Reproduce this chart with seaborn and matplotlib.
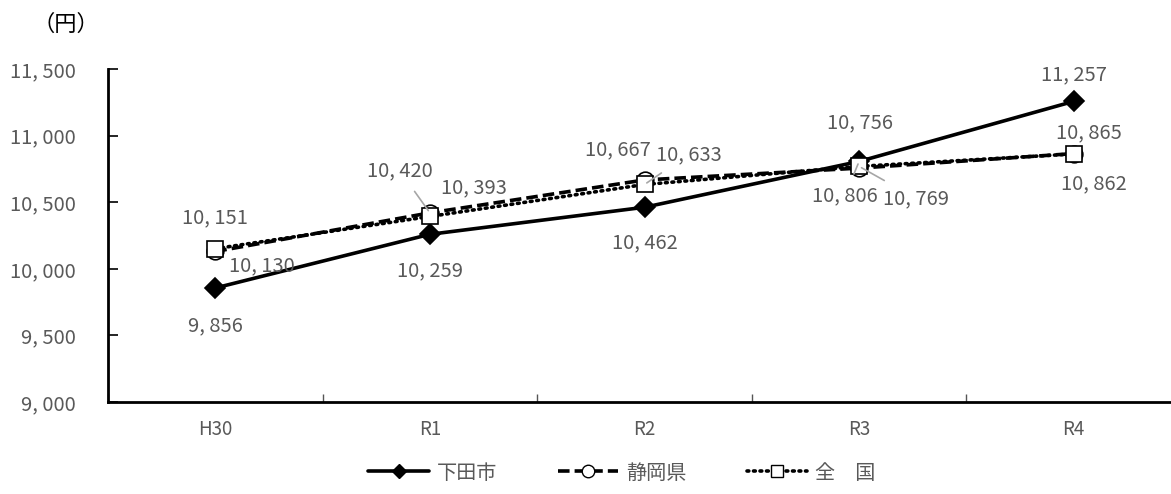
import matplotlib
matplotlib.use("Agg")
import matplotlib.pyplot as plt
import seaborn as sns
import pandas as pd
from matplotlib.lines import Line2D

categories = ["H30", "R1", "R2", "R3", "R4"]
shimoda = [9856, 10259, 10462, 10806, 11257]
shizuoka = [10130, 10420, 10667, 10756, 10865]
zenkoku = [10151, 10393, 10633, 10769, 10862]
series_names = ["下田市", "静岡県", "全\u3000国"]
yticks = [9000, 9500, 10000, 10500, 11000, 11500]

sns.set_theme(style="white")
plt.rcParams['font.family'] = ['Noto Sans CJK JP', 'DejaVu Sans']

TXT = "#595959"
FS = 14.5
W, H = 1171, 494
fig = plt.figure(figsize=(W / 100, H / 100), dpi=100)
ax = fig.add_axes([108 / W, 92 / H, (1181 - 108) / W, 333 / H])

pos = list(range(len(categories)))
df = pd.DataFrame({"x": pos * 3,
                   "y": shimoda + shizuoka + zenkoku,
                   "s": sum([[n] * len(pos) for n in series_names], [])})

styles = {
    "下田市": dict(marker="D", mfc="black", mec="black", ms=10, ls="-"),
    "静岡県": dict(marker="o", mfc="white", mec="black", ms=12, ls=(0, (3.2, 1.4))),
    "全\u3000国": dict(marker="s", mfc="white", mec="black", ms=12, ls=(0, (0.5, 1.3))),
}
for name in series_names:
    st = styles[name]
    sub = df[df.s == name]
    sns.lineplot(data=sub, x="x", y="y", ax=ax, color="black", lw=2.6,
                 marker=st["marker"], markersize=st["ms"], markerfacecolor=st["mfc"],
                 markeredgecolor=st["mec"], markeredgewidth=1.2, linestyle=st["ls"],
                 legend=False, zorder=3, solid_capstyle="butt",
                 dash_capstyle="round" if name == "全\u3000国" else "butt")

ax.set_xlim(-0.5, 4.5)
ax.set_ylim(9000, 11500)
ax.set_yticks(yticks)
ax.set_yticklabels([f"{v:,}".replace(",", ", ") for v in yticks])
ax.set_xticks([p + 0.5 for p in pos[:-1]] + [-0.5], minor=False)
ax.set_xticklabels([])
ax.set_xticks(pos, minor=True)
ax.set_xticklabels(categories, minor=True)
ax.set_xlabel("")
ax.set_ylabel("")
for s in ["top", "right"]:
    ax.spines[s].set_visible(False)
for s in ["left", "bottom"]:
    ax.spines[s].set_color("black")
    ax.spines[s].set_linewidth(2)
ax.tick_params(axis="y", direction="in", length=7, width=1.2, color="black",
               labelsize=FS, labelcolor=TXT, pad=23, left=True)
ax.tick_params(axis="x", which="major", direction="in", length=6, width=1, color="#555555", bottom=True)
ax.tick_params(axis="x", which="minor", length=0, labelsize=FS - 1, labelcolor=TXT, pad=12)

def fmt(v):
    return f"{v:,}".replace(",", ", ")

# (series values, index, dx px, dy px, leader)
labels = [
    (shimoda, 0, 0, -38, False), (shimoda, 1, 0, -36, False), (shimoda, 2, 0, -36, False),
    (shimoda, 3, -14, -34, True), (shimoda, 4, 0, 27, False),
    (shizuoka, 0, 47, -14, False), (shizuoka, 1, -30, 42, True), (shizuoka, 2, -27, 30, False),
    (shizuoka, 3, 1, 45, False), (shizuoka, 4, 15, 21, False),
    (zenkoku, 0, 0, 31, False), (zenkoku, 1, 44, 29, False), (zenkoku, 2, 44, 30, True),
    (zenkoku, 3, 57, -32, True), (zenkoku, 4, 20, -30, False),
]
for vals, i, dx, dy, leader in labels:
    kw = {}
    if leader:
        kw["arrowprops"] = dict(arrowstyle="-", color="#a6a6a6", lw=1.2, shrinkA=6, shrinkB=2)
    ax.annotate(fmt(vals[i]), xy=(pos[i], vals[i]), xytext=(dx, dy),
                textcoords="offset pixels", ha="center", va="center",
                fontsize=FS, color=TXT, zorder=5, **kw)

fig.text(66 / W, 1 - 24 / H, "（円）", ha="center", va="center", fontsize=16, color="black")

handles = []
for name in series_names:
    st = styles[name]
    handles.append(Line2D([], [], color="black", lw=2.6, marker=st["marker"], ms=st["ms"] * 0.75,
                          mfc=st["mfc"], mec=st["mec"], ls=st["ls"],
                          dash_capstyle="round" if name == "全\u3000国" else "butt"))
leg = fig.legend(handles, series_names, loc="center", bbox_to_anchor=(622 / W, 1 - 473 / H),
                 ncol=3, frameon=False, fontsize=FS, handlelength=3.0, columnspacing=3.0,
                 handletextpad=0.4)
for t in leg.get_texts():
    t.set_color(TXT)

fig.savefig("out.png", dpi=100)
